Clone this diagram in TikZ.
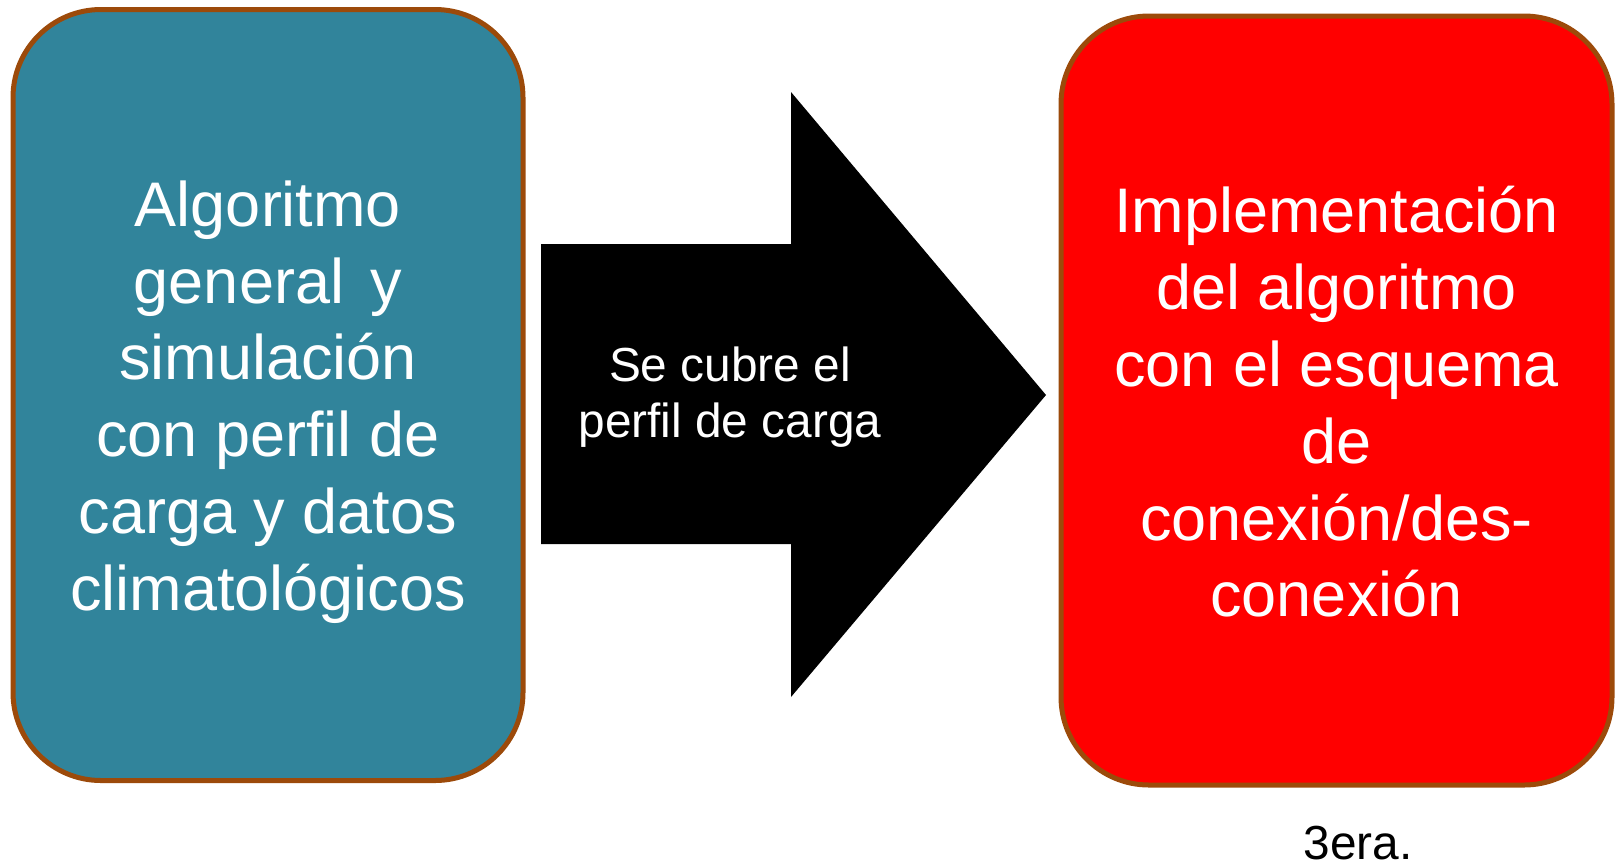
\documentclass[tikz,border=0pt]{standalone}
\usepackage{fontspec}
\setmainfont{Liberation Sans}
\definecolor{tealfill}{HTML}{31849B}
\definecolor{brownline}{HTML}{9C4A0A}
\definecolor{redfill}{HTML}{FF0000}
\begin{document}
\begin{tikzpicture}[x=0.5pt,y=-0.5pt,
  box/.style={draw=brownline, line width=2.5pt, rounded corners=44pt, inner sep=0pt},
  boxtext/.style={text=white, align=center, font=\fontsize{31.5pt}{38.4pt}\selectfont},
  arrowtext/.style={text=white, align=center, font=\fontsize{23.9pt}{27.9pt}\selectfont},
  note/.style={text=black, font=\fontsize{23.9pt}{27.9pt}\selectfont, anchor=base}]
\useasboundingbox (0,0) rectangle (1616,864);
\node[box, fill=tealfill, minimum width=255pt, minimum height=385.5pt] (left) at (268,395) {};
\node[boxtext] (lefttext) at (268,402)
  {Algoritmo\\general\hspace{0.42em}y\\simulación\\con perfil de\\carga y datos\\climatológicos};
\node[box, fill=redfill, minimum width=275.5pt, minimum height=384.5pt] (right) at (1336.5,400.5) {};
\node[boxtext] (righttext) at (1336.5,402)
  {Implementación\\del algoritmo\\con el esquema\\de\\conexión/des-\\conexión};
\fill[black] (541,244) -- (791,244) -- (791,92) -- (1046,395) -- (791,697) -- (791,544) -- (541,544) -- cycle;
\node[arrowtext] (arrowlabel) at (730,397) {Se cubre el\\perfil de carga};
\node[note] (era) at (1358,859) {3era.};
\end{tikzpicture}
\end{document}
